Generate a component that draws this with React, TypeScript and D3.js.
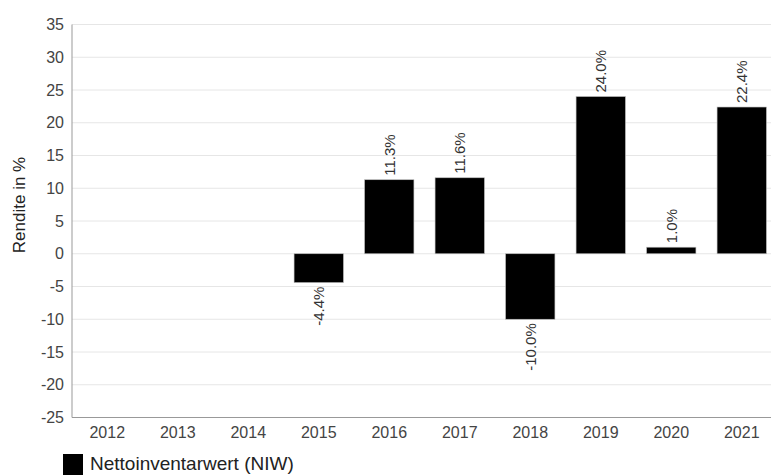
import React from 'react';
import * as d3 from 'd3';

const years = ['2012', '2013', '2014', '2015', '2016', '2017', '2018', '2019', '2020', '2021'];
const niw: (number | null)[] = [null, null, null, -4.4, 11.3, 11.6, -10.0, 24.0, 1.0, 22.4];
const yTicks = [-25, -20, -15, -10, -5, 0, 5, 10, 15, 20, 25, 30, 35];
const seriesName = 'Nettoinventarwert (NIW)';
const yTitle = 'Rendite in %';

const W = 771, H = 476;
const left = 72, right = 777, top = 24.5, bottom = 417.5;
const font = 'Arial, "Liberation Sans", sans-serif';

export default function App() {
    const x = d3.scaleBand<string>().domain(years).range([left, right]).paddingInner(0.3).paddingOuter(0.15);
    const y = d3.scaleLinear().domain([-25, 35]).range([bottom, top]);
    // hyphen instead of d3's unicode minus, like the original
    const fmt = (v: number) => d3.format('.1f')(v).replace('\u2212', '-');

    return (
        <svg width={W} height={H} style={{ position: 'absolute', left: 0, top: 0 }} fontFamily={font}>
            {yTicks.map((t) => (
                <g key={t}>
                    <line x1={left} x2={W} y1={y(t)} y2={y(t)} stroke="#e6e6e6" strokeWidth={1} />
                    <text x={left - 8} y={y(t)} dy="0.35em" textAnchor="end" fontSize={16} fill="#444">{t}</text>
                </g>
            ))}
            <line x1={left} x2={left} y1={top} y2={bottom} stroke="#999" />
            <line x1={left} x2={W} y1={bottom} y2={bottom} stroke="#999" />
            {years.map((yr) => (
                <text key={yr} x={x(yr)! + x.bandwidth() / 2} y={bottom + 20} textAnchor="middle" fontSize={16} fill="#444">{yr}</text>
            ))}
            {years.map((yr, i) => {
                const v = niw[i];
                if (v == null) return null;
                const bx = x(yr)!;
                const y0 = y(0), y1 = y(v);
                const cx = bx + x.bandwidth() / 2;
                const pos = v >= 0;
                const ly = pos ? y1 - 4 : y1 + 4;
                return (
                    <g key={yr}>
                        <rect x={bx} y={Math.min(y0, y1)} width={x.bandwidth()} height={Math.abs(y1 - y0)}
                            fill="#000" stroke="#bbb" strokeWidth={0.6} />
                        <text transform={`translate(${cx + 5.5},${ly}) rotate(-90)`} textAnchor={pos ? 'start' : 'end'}
                            fontSize={15} fill="#333">{fmt(v)}%</text>
                    </g>
                );
            })}
            <text transform={`translate(25,205) rotate(-90)`} textAnchor="middle" fontSize={17} fill="#222">{yTitle}</text>
            <rect x={63} y={454} width={20} height={21} fill="#000" />
            <text x={90} y={470} fontSize={19} fill="#222">{seriesName}</text>
        </svg>
    );
}
